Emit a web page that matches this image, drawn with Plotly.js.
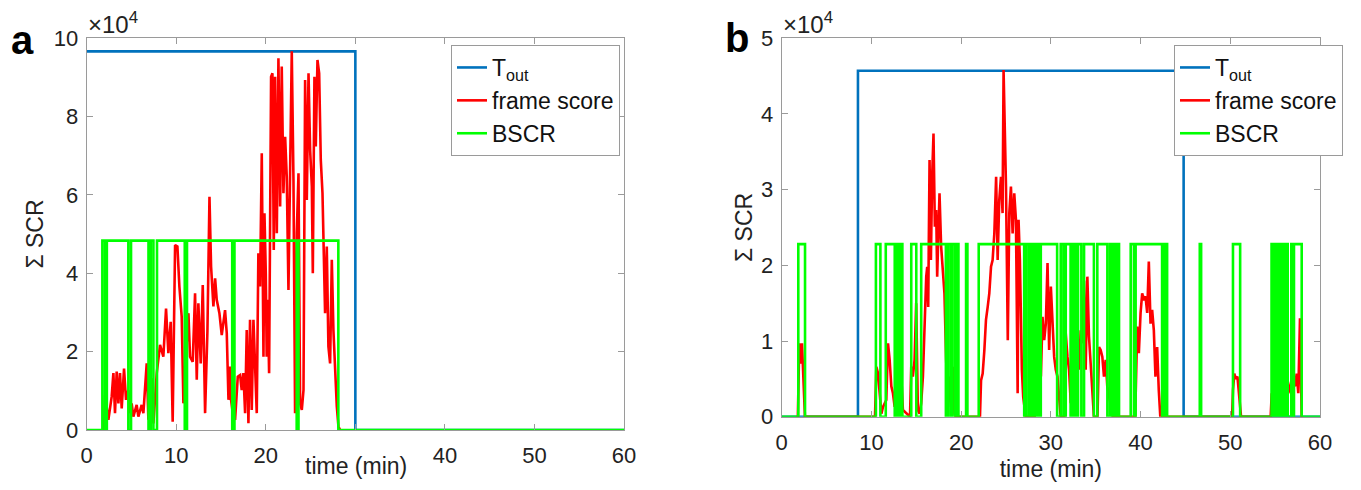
<!DOCTYPE html>
<html>
<head>
<meta charset="utf-8">
<script src="https://cdn.plot.ly/plotly-3.0.1.min.js"></script>
<style>html,body{margin:0;padding:0;background:#fff;}#chart{width:1361px;height:490px;}</style>
</head>
<body>
<div id="chart"></div>
<script>
// ---------- Panel a data (values in units of 10^4) ----------
const toutA_t = [0, 30, 60];
const toutA_v = [9.66, 0, 0];

const frameA_t = [1.95, 2.05, 2.42, 2.79, 2.98, 3.16, 3.35, 3.54, 3.72, 3.91,
  4.17, 4.39, 4.65, 4.84, 5.02, 5.21, 5.58, 5.77, 6.14, 6.33,
  6.7, 6.89, 7.26, 7.45, 7.82, 8.19, 8.56, 8.86, 9.12, 9.38,
  9.6, 9.87, 10.13, 10.35, 10.61, 10.8, 11.1, 11.36, 11.54, 11.84,
  12.1, 12.29, 12.47, 12.73, 12.96, 13.22, 13.48, 13.71, 13.89, 14.15,
  14.34, 14.52, 14.82, 15.08,
  15.45, 15.64, 15.83, 16.01, 16.12, 16.27, 16.57, 16.87, 17.13, 17.31,
  17.5, 17.69, 17.87, 18.06, 18.24, 18.43, 18.62, 18.8, 18.99, 19.17,
  19.36, 19.55, 19.74, 19.85, 20.0, 20.1, 20.22, 20.37, 20.59, 20.74,
  20.89, 21.04, 21.23, 21.41, 21.6, 21.78, 21.97, 22.16, 22.34, 22.53,
  22.72, 22.9, 23.09, 23.27, 23.46, 23.65, 23.83, 24.02, 24.21, 24.39,
  24.58, 24.77, 24.95, 25.14, 25.25, 25.43, 25.58, 25.77, 25.96, 26.14,
  26.33, 26.44, 26.62, 26.81, 26.99, 27.18, 27.37, 27.55, 27.74, 27.93,
  28.11, 28.3];
const frameA_v = [0, 0.89, 0.26, 0.85, 1.45, 0.43, 1.49, 0.68, 1.45, 0.55,
  1.57, 0.77, 1.02, 0.43, 0.68, 0.34, 0.64, 0.34, 0.64, 0.43,
  1.7, 0.26, 1.32, 0.17, 1.45, 2.17, 1.87, 3.1, 1.96, 2.76,
  0.21, 4.72, 4.68, 3.66, 2.89, 0.68, 1.96, 2.98, 1.87, 1.74,
  3.49, 1.28, 3.23, 1.7, 3.7, 0.43, 2.51, 5.95, 4.17, 3.15,
  3.87, 3.32, 2.98, 2.42,
  3.06, 2.47, 0.77, 1.62, 0.77, 0.51, 0.26, 1.36, 1.4, 1.02,
  1.45, 0.43, 2.55, 0.17, 2.81, 0.51, 2.81, 1.45, 0.43, 4.51,
  3.66, 7.06, 1.87, 5.53, 4.0, 1.87, 3.32, 1.45, 9.01, 9.1,
  4.59, 9.01, 5.02, 9.48, 5.7, 9.27, 6.04, 7.48, 6.46, 3.57,
  6.97, 9.66, 6.38, 0.43, 5.02, 6.55, 0.68, 0.51, 1.02, 8.93,
  5.87, 9.1, 7.14, 6.21, 4.0, 9.01, 7.23, 9.44, 9.1, 6.89,
  6.04, 4.51, 2.98, 4.68, 2.13, 1.7, 4.34, 2.55, 1.45, 0.6,
  0.09, 0];

const bscrA_t = [0, 1.75, 2.05, 2.25, 4.65, 4.95, 6.9, 7.15, 7.45, 7.85, 10.95, 11.2, 16.25, 16.5, 23.45, 23.65, 28.1, 60];
const bscrA_v = [0, 4.83, 0, 4.83, 0, 4.83, 0, 4.83, 0, 4.83, 0, 4.83, 0, 4.83, 0, 4.83, 0, 0];

// ---------- Panel b data (values in units of 10^4) ----------
const toutB_t = [0, 8.5, 44.8, 60];
const toutB_v = [0, 4.57, 0, 0];

const frameB_t = [1.8, 1.96, 2.11, 2.26, 2.59,
  10.4, 10.55, 10.74, 10.92, 11.11, 11.29, 11.66, 11.85, 12.03, 12.22, 12.4, 12.59, 12.77, 12.96, 13.14, 13.33, 13.51,
  14.3, 14.44, 14.62, 14.81, 14.99, 15.18, 15.37, 15.55, 15.74, 15.92, 16.11, 16.22, 16.33, 16.48, 16.63, 16.77, 16.92,
  17.07, 17.22, 17.33, 17.44, 17.59, 17.77, 17.96, 18.14, 18.33, 18.51, 18.7, 18.88, 19.07, 19.26, 19.4,
  22.1, 22.22, 22.4, 22.59, 22.77, 22.96, 23.14, 23.33, 23.51, 23.7, 23.9, 24.07, 24.25, 24.44, 24.62, 24.73, 24.88,
  25.0, 25.2, 25.37, 25.55, 25.74, 25.92, 26.11, 26.3, 26.4, 26.55, 26.77, 26.92, 27.2,
  28.2, 28.33, 28.52, 28.7, 28.89, 29.07, 29.26, 29.44, 29.63, 29.81, 30.0, 30.18, 30.37, 30.55, 30.74, 30.92, 31.1,
  31.5, 31.66, 31.85, 32.03, 32.22, 32.4, 32.59, 32.77, 32.96, 33.14, 33.33, 33.51, 33.7, 33.88, 34.07, 34.25, 34.44, 34.63, 34.8,
  35.2, 35.37, 35.55, 35.74, 35.92, 36.11, 36.29, 36.48, 36.66, 36.9,
  39.4, 39.63, 39.81, 40.0, 40.18, 40.37, 40.55, 40.74, 40.92, 41.11, 41.29, 41.48, 41.66, 41.85, 42.03, 42.2,
  50.2, 50.3, 50.45, 50.6, 50.8, 50.95, 51.1, 51.2,
  54.5, 54.62, 54.99, 55.36, 56.1, 56.29, 56.47, 56.84, 57.03, 57.21, 57.4, 57.58, 57.77, 57.96];
const frameB_v = [0, 0.97, 0.7, 0.97, 0,
  0, 0.66, 0.57, 0.31, 0.04, 0.13, 0.22, 0.97, 0.75, 0.4, 0.31, 0.13, 0.35, 0.26, 0.44, 0.53, 0.09,
  0, 0.66, 0.53, 0.75, 1.5, 0.09, 0.04, 0.18, 0.53, 1.19, 1.85, 1.98, 1.45, 3.39, 2.07, 3.17, 3.74,
  2.51, 2.73, 1.85, 2.25, 2.95, 2.25, 1.85, 1.63, 0.75, 0.18, 0.53, 0.13, 0.66, 0.04, 0,
  0, 0.48, 0.57, 0.88, 1.28, 1.45, 1.63, 1.98, 2.07, 2.42, 3.17, 2.07, 2.86, 3.17, 2.69, 4.58, 3.83,
  3.04, 1.01, 2.69, 3.04, 2.42, 2.95, 2.6, 0.31, 2.6, 2.07, 0.62, 0.26, 0,
  0, 0.26, 0.62, 0.92, 0.53, 1.32, 1.01, 1.23, 2.03, 0.88, 1.72, 1.14, 0.79, 0.62, 0.53, 0.26, 0,
  0, 1.1, 0.79, 0.62, 0.18, 0.53, 0.44, 0.18, 1.06, 0.62, 1.14, 0.97, 1.8, 0.62, 1.85, 1.06, 0.7, 0.35, 0,
  0, 0.92, 0.88, 0.79, 0.53, 0.75, 0.4, 0.26, 0.18, 0,
  0, 1.19, 0.84, 1.37, 1.63, 1.54, 1.59, 1.37, 2.05, 1.23, 1.41, 1.14, 0.53, 0.92, 0.35, 0,
  0, 0.35, 0.57, 0.5, 0.53, 0.3, 0.05, 0,
  0, 0.31, 0.18, 0.35, 0.22, 0.4, 0.31, 0.49, 0.53, 0.4, 0.57, 0.31, 1.3, 0];

const bscrB_t = [0, 1.85, 2.6, 10.5, 11.0, 11.6, 12.6, 12.8, 13.05, 13.2, 13.45,
  14.44, 15.0, 15.55, 18.3, 18.5, 18.8, 19.0, 19.3, 19.45, 19.7, 20.55, 20.7,
  21.96, 27.03, 27.3, 27.6, 27.85, 28.07, 28.33, 28.6, 28.88, 30.7, 31.1, 31.4, 31.66, 32.2,
  32.48, 32.77, 33.03, 33.4, 33.7, 34.8, 35.18, 36.3, 36.6, 36.85, 37.0, 37.2, 37.4, 37.6,
  38.9, 39.26, 39.45, 42.4, 42.6, 42.8, 42.9, 42.96, 46.6, 46.75, 50.3, 51.1,
  54.6, 54.8, 55.0, 55.2, 55.35, 55.5, 55.65, 55.8, 55.95, 56.1, 56.25, 56.4, 56.8, 57.0, 57.1, 57.96, 60];
const bscrB_v = [0, 2.28, 0, 2.28, 0, 2.28, 0, 2.28, 0, 2.28, 0,
  2.28, 0, 2.28, 0, 2.28, 0, 2.28, 0, 2.28, 0, 2.28, 0,
  2.28, 0, 2.28, 0, 2.28, 0, 2.28, 0, 2.28, 0, 2.28, 0, 2.28, 0,
  2.28, 0, 2.28, 0, 2.28, 0, 2.28, 0, 2.28, 0, 2.28, 0, 2.28, 0,
  2.28, 0, 2.28, 0, 2.28, 0, 2.28, 0, 2.28, 0, 2.28, 0,
  2.28, 0, 2.28, 0, 2.28, 0, 2.28, 0, 2.28, 0, 2.28, 0, 2.28, 0, 2.28, 0, 0];

// ---------- Ticks / labels ----------
const xTicks = [0, 10, 20, 30, 40, 50, 60];
const xTickTextA = ['0', '10', '20', '', '40', '50', '60'];   // "30" is hidden under the axis title in panel a
const xTickTextB = ['0', '10', '20', '30', '40', '50', '60'];
const yTicksA = [0, 2, 4, 6, 8, 10];
const yTicksB = [0, 1, 2, 3, 4, 5];
const seriesNames = ['T<sub>out</sub>', 'frame score', 'BSCR'];
const seriesColors = ['#0072BD', '#FF0000', '#00FF00'];
const xTitle = 'time (min)';
const yTitle = 'Σ SCR';

const FONT = 'Liberation Sans, Arial, Helvetica, sans-serif';
const W = 1361, H = 490;
const px = v => v / W;
const py = v => (H - v) / H;

function tr(x, y, i, xa, ya, lg, shape) {
  return {
    x: x, y: y, xaxis: xa, yaxis: ya, legend: lg,
    type: 'scatter', mode: 'lines', name: seriesNames[i],
    line: {color: seriesColors[i], width: 2.6, shape: shape},
    hoverinfo: 'skip'
  };
}

const data = [
  tr(toutA_t, toutA_v, 0, 'x', 'y', 'legend', 'hv'),
  tr(frameA_t, frameA_v, 1, 'x', 'y', 'legend', 'linear'),
  tr(bscrA_t, bscrA_v, 2, 'x', 'y', 'legend', 'hv'),
  tr(toutB_t, toutB_v, 0, 'x2', 'y2', 'legend2', 'hv'),
  tr(frameB_t, frameB_v, 1, 'x2', 'y2', 'legend2', 'linear'),
  tr(bscrB_t, bscrB_v, 2, 'x2', 'y2', 'legend2', 'hv')
];

const axisCommon = {
  showline: true, mirror: 'ticks', linecolor: '#9a9a9a', linewidth: 1,
  ticks: 'inside', ticklen: 6, tickcolor: '#9a9a9a', tickwidth: 1,
  showgrid: false, zeroline: false,
  tickfont: {family: FONT, size: 22, color: '#222'}
};

const legendCommon = {
  bordercolor: '#9a9a9a', borderwidth: 1, bgcolor: '#fff',
  font: {family: FONT, size: 23, color: '#111'},
  xanchor: 'right', yanchor: 'top', itemwidth: 30, tracegroupgap: 0
};

const titleFont = {family: FONT, size: 23, color: '#222'};

const layout = {
  width: W, height: H,
  margin: {l: 0, r: 0, t: 0, b: 0},
  paper_bgcolor: '#fff', plot_bgcolor: '#fff',
  showlegend: true,
  xaxis: Object.assign({}, axisCommon, {
    domain: [px(86.7), px(624)], range: [0, 60], tickvals: xTicks, ticktext: xTickTextA, anchor: 'y',
    ticklabelstandoff: 6
  }),
  yaxis: Object.assign({}, axisCommon, {
    domain: [py(430), py(38)], range: [0, 10], tickvals: yTicksA, anchor: 'x',
    ticklabelstandoff: 3,
    title: {text: yTitle, font: titleFont, standoff: 3}
  }),
  xaxis2: Object.assign({}, axisCommon, {
    domain: [px(781.7), px(1320)], range: [0, 60], tickvals: xTicks, ticktext: xTickTextB, anchor: 'y2',
    ticklabelstandoff: 6,
    title: {text: xTitle, font: titleFont, standoff: 6}
  }),
  yaxis2: Object.assign({}, axisCommon, {
    domain: [py(416.7), py(38.2)], range: [0, 5], tickvals: yTicksB, anchor: 'x2',
    ticklabelstandoff: 3,
    title: {text: yTitle, font: titleFont, standoff: 1}
  }),
  legend: Object.assign({}, legendCommon, {x: px(620), y: py(45)}),
  legend2: Object.assign({}, legendCommon, {x: px(1343), y: py(45)}),
  annotations: [
    {text: xTitle, xref: 'paper', yref: 'paper', x: px(356), y: py(466), xanchor: 'center', yanchor: 'middle',
     showarrow: false, font: titleFont},
    {text: '<b>a</b>', xref: 'paper', yref: 'paper', x: px(22), y: py(40), xanchor: 'center', yanchor: 'middle',
     showarrow: false, font: {family: FONT, size: 40, color: '#000'}},
    {text: '<b>b</b>', xref: 'paper', yref: 'paper', x: px(737), y: py(38), xanchor: 'center', yanchor: 'middle',
     showarrow: false, font: {family: FONT, size: 40, color: '#000'}},
    {text: '×10<sup>4</sup>', xref: 'paper', yref: 'paper', x: px(86), y: py(23), xanchor: 'left', yanchor: 'middle',
     showarrow: false, font: {family: FONT, size: 24, color: '#222'}},
    {text: '×10<sup>4</sup>', xref: 'paper', yref: 'paper', x: px(781), y: py(23), xanchor: 'left', yanchor: 'middle',
     showarrow: false, font: {family: FONT, size: 24, color: '#222'}}
  ]
};

Plotly.newPlot('chart', data, layout, {staticPlot: true, displayModeBar: false});
</script>
</body>
</html>
